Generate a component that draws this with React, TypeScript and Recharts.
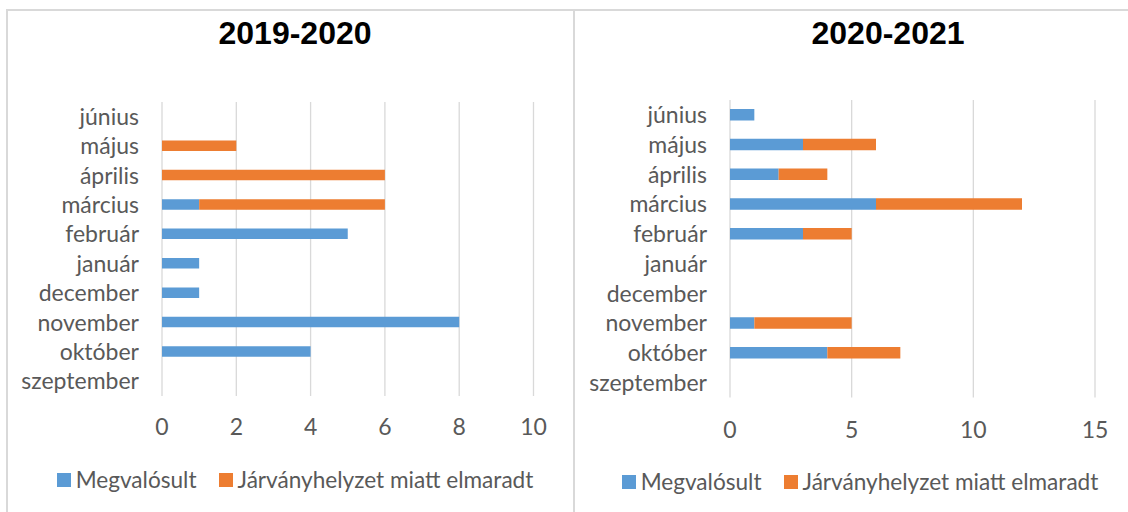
import React from 'react';
import { BarChart, Bar, XAxis, YAxis, CartesianGrid } from 'recharts';

const months = ['szeptember', 'október', 'november', 'december', 'január', 'február', 'március', 'április', 'május', 'június'];
const realized1920 = [0, 4, 8, 1, 1, 5, 1, 0, 0, 0];
const cancelled1920 = [0, 0, 0, 0, 0, 0, 5, 6, 2, 0];
const realized2021 = [0, 4, 1, 0, 0, 3, 6, 2, 3, 1];
const cancelled2021 = [0, 3, 4, 0, 0, 2, 6, 2, 3, 0];
const ticks1920 = [0, 2, 4, 6, 8, 10];
const ticks2021 = [0, 5, 10, 15];
const seriesNames = ['Megvalósult', 'Járványhelyzet miatt elmaradt'];
const seriesColors = ['#5B9BD5', '#ED7D31'];
const titles = ['2019-2020', '2020-2021'];

const build = (a: number[], b: number[]) =>
  months.map((m, i) => ({ month: m, realized: a[i], cancelled: b[i] }));

const TEXT = '#595959';
const FONT = 'Lato, "Open Sans", sans-serif';

const LegendBox = ({ left, top, width }: { left: number; top: number; width: number }) => (
  <div style={{ position: 'absolute', left, top, width, display: 'flex', justifyContent: 'center', alignItems: 'center', fontFamily: FONT, fontSize: 22.6, color: TEXT, whiteSpace: 'nowrap', lineHeight: '28px' }}>
    {seriesNames.map((n, i) => (
      <div key={n} style={{ display: 'flex', alignItems: 'center', marginLeft: i === 0 ? 0 : 22 }}>
        <span style={{ display: 'inline-block', width: 14, height: 14, background: seriesColors[i], marginRight: 5 }} />
        <span>{n}</span>
      </div>
    ))}
  </div>
);

type PanelProps = {
  data: { month: string; realized: number; cancelled: number }[];
  ticks: number[];
  width: number;
  height: number;
  yAxisWidth: number;
  top: number;
  bottom: number;
  right: number;
  barSize: number;
  xTickMargin: number;
};

const Panel = (p: PanelProps) => (
  <BarChart
    layout="vertical"
    width={p.width}
    height={p.height}
    data={p.data}
    margin={{ top: p.top, bottom: p.bottom, left: 0, right: p.right }}
    barCategoryGap={0}
  >
    <CartesianGrid horizontal={false} vertical={true} stroke="#d9d9d9" strokeWidth={1.3} />
    <XAxis
      type="number"
      domain={[p.ticks[0], p.ticks[p.ticks.length - 1]]}
      ticks={p.ticks}
      interval={0}
      axisLine={false}
      tickLine={false}
      tickSize={0}
      tickMargin={p.xTickMargin}
      height={1}
      tick={{ fill: TEXT, fontSize: 23, fontFamily: FONT }}
    />
    <YAxis
      type="category"
      dataKey="month"
      reversed={true}
      width={p.yAxisWidth}
      interval={0}
      axisLine={false}
      tickLine={false}
      tickSize={0}
      tickMargin={23}
      tick={{ fill: TEXT, fontSize: 23, fontFamily: FONT }}
    />
    <Bar dataKey="realized" name={seriesNames[0]} stackId="s" fill={seriesColors[0]} barSize={p.barSize} isAnimationActive={false} />
    <Bar dataKey="cancelled" name={seriesNames[1]} stackId="s" fill={seriesColors[1]} barSize={p.barSize} isAnimationActive={false} />
  </BarChart>
);

export default function App() {
  const titleStyle: React.CSSProperties = {
    position: 'absolute',
    top: 14,
    fontFamily: '"Liberation Sans", Arial, sans-serif',
    fontWeight: 'bold',
    fontSize: 32,
    color: '#000',
    textAlign: 'center',
    width: 300,
    lineHeight: '38px',
  };
  return (
    <div style={{ position: 'absolute', left: 0, top: 0, width: 1128, height: 512, overflow: 'hidden', background: '#fff' }}>
      <div style={{ position: 'absolute', left: 6, top: 9, width: 1122, height: 2, background: '#d9d9d9' }} />
      <div style={{ position: 'absolute', left: 6, top: 9, width: 2, height: 503, background: '#d9d9d9' }} />
      <div style={{ position: 'absolute', left: 573, top: 9, width: 2, height: 503, background: '#d9d9d9' }} />

      <div style={{ position: 'absolute', left: 0, top: 0 }}>
        <Panel
          data={build(realized1920, cancelled1920)}
          ticks={ticks1920}
          width={573}
          height={512}
          yAxisWidth={162}
          top={102}
          bottom={512 - 396 - 1}
          right={573 - 162 - 371.5}
          barSize={10.5}
          xTickMargin={23}
        />
      </div>
      <div style={{ ...titleStyle, left: 295 - 150 }}>{titles[0]}</div>
      <LegendBox left={20} top={466} width={550} />

      <div style={{ position: 'absolute', left: 575, top: 0 }}>
        <Panel
          data={build(realized2021, cancelled2021)}
          ticks={ticks2021}
          width={553}
          height={512}
          yAxisWidth={155}
          top={100}
          bottom={512 - 397.5 - 1}
          right={553 - 155 - 365}
          barSize={11.5}
          xTickMargin={24}
        />
      </div>
      <div style={{ ...titleStyle, left: 888 - 150 }}>{titles[1]}</div>
      <LegendBox left={585} top={468} width={550} />
    </div>
  );
}
